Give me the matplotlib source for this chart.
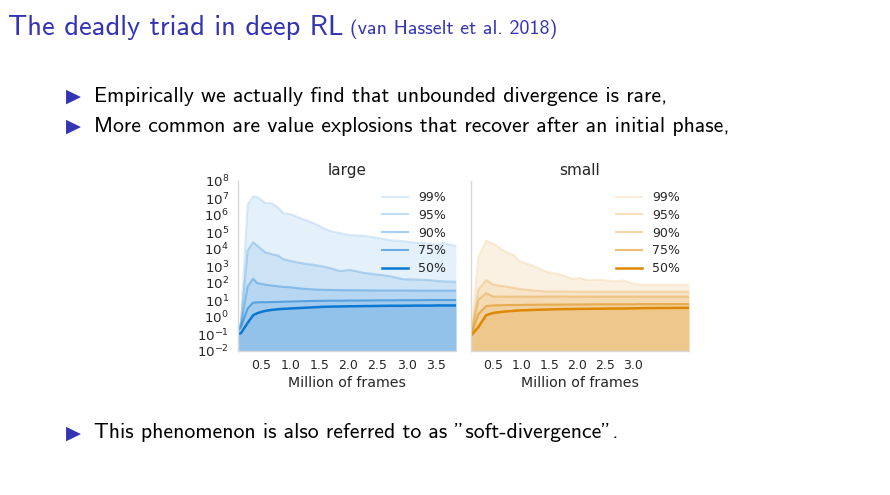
import numpy as np
import matplotlib
matplotlib.use('Agg')
import matplotlib.pyplot as plt

# quantile curves, stored as log10 of the value
quantiles = ['99%', '95%', '90%', '75%', '50%']

large_x = [0.10, 0.15, 0.265, 0.36, 0.43, 0.50, 0.57, 0.68, 0.80, 0.88, 1.00, 1.11,
           1.23, 1.34, 1.46, 1.57, 1.68, 1.86, 2.03, 2.26, 2.49, 2.72, 2.94, 3.17,
           3.40, 3.52, 3.63, 3.75, 3.85]
large_log = {
    '99%': [-0.5, -0.3, 6.6, 7.1, 7.05, 6.9, 6.7, 6.7, 6.4, 6.1, 6.07, 5.9,
            5.75, 5.6, 5.43, 5.23, 5.07, 4.93, 4.82, 4.78, 4.66, 4.52, 4.46, 4.36,
            4.32, 4.26, 4.36, 4.26, 4.18],
    '95%': [-0.6, -0.4, 3.9, 4.4, 4.2, 4.0, 3.8, 3.7, 3.6, 3.4, 3.3, 3.22,
            3.15, 3.1, 3.03, 2.97, 2.88, 2.7, 2.77, 2.6, 2.5, 2.4, 2.22, 2.2,
            2.17, 2.12, 2.1, 2.08, 2.07],
    '90%': [-0.7, -0.5, 1.8, 2.25, 2.0, 1.95, 1.9, 1.85, 1.8, 1.77, 1.75, 1.7,
            1.66, 1.63, 1.61, 1.6, 1.59, 1.58, 1.57, 1.57, 1.56, 1.56, 1.56, 1.55,
            1.55, 1.55, 1.55, 1.55, 1.55],
    '75%': [-0.8, -0.6, 0.5, 0.85, 0.86, 0.87, 0.87, 0.88, 0.89, 0.9, 0.91, 0.92,
            0.93, 0.94, 0.95, 0.95, 0.96, 0.96, 0.97, 0.97, 0.98, 0.98, 0.99, 0.99,
            1.0, 1.0, 1.0, 1.0, 1.0],
    '50%': [-1.0, -0.95, -0.35, 0.1, 0.22, 0.3, 0.36, 0.42, 0.46, 0.48, 0.5, 0.52,
            0.54, 0.56, 0.58, 0.6, 0.61, 0.62, 0.63, 0.64, 0.65, 0.66, 0.66, 0.67,
            0.67, 0.68, 0.68, 0.68, 0.68],
}

small_x = [0.10, 0.23, 0.37, 0.50, 0.62, 0.74, 0.86, 0.98, 1.10, 1.22, 1.46, 1.70,
           1.93, 2.05, 2.17, 2.41, 2.65, 2.83, 3.01, 3.13, 3.49, 4.00]
small_log = {
    '99%': [-1.0, 3.5, 4.5, 4.3, 4.05, 3.8, 3.65, 3.25, 3.15, 3.0, 2.65, 2.5,
            2.25, 2.3, 2.17, 2.2, 2.1, 2.14, 1.97, 1.9, 1.9, 1.9],
    '95%': [-1.05, 1.6, 2.17, 1.9, 1.83, 1.78, 1.72, 1.64, 1.6, 1.56, 1.5, 1.5,
            1.49, 1.49, 1.49, 1.49, 1.49, 1.49, 1.49, 1.49, 1.49, 1.49],
    '90%': [-1.05, 1.0, 1.4, 1.2, 1.2, 1.2, 1.2, 1.2, 1.2, 1.2, 1.2, 1.2,
            1.2, 1.2, 1.2, 1.2, 1.2, 1.2, 1.2, 1.2, 1.2, 1.2],
    '75%': [-1.05, 0.16, 0.64, 0.68, 0.69, 0.7, 0.71, 0.71, 0.72, 0.72, 0.73, 0.73,
            0.74, 0.74, 0.74, 0.75, 0.75, 0.75, 0.75, 0.76, 0.76, 0.76],
    '50%': [-1.1, -0.6, 0.1, 0.24, 0.29, 0.33, 0.36, 0.39, 0.4, 0.42, 0.44, 0.46,
            0.47, 0.48, 0.48, 0.49, 0.5, 0.5, 0.51, 0.52, 0.53, 0.54],
}

line_alpha = {'99%': 0.15, '95%': 0.25, '90%': 0.35, '75%': 0.55, '50%': 1.0}
line_width = {'99%': 1.5, '95%': 1.5, '90%': 1.5, '75%': 1.5, '50%': 1.8}

blue = '#0a78d2'
orange = '#de8700'
struct = '#3333b3'
slide_font = ['cmss10', 'DejaVu Sans']

W, H = 890, 495
fig = plt.figure(figsize=(W / 100, H / 100), dpi=100)
fig.patch.set_facecolor('white')


def panel(rect, x, logs, color, title, xticks, xmax, ylabels, leg_x):
    ax = fig.add_axes(rect)
    x = np.array(x)
    for q in quantiles:
        y = 10.0 ** np.array(logs[q])
        ax.fill_between(x, 1e-2, y, color=color, alpha=0.11, lw=0)
        ax.plot(x, y, color=color, alpha=line_alpha[q], lw=line_width[q], label=q)
    ax.set_yscale('log')
    ax.set_ylim(1e-2, 1e8)
    ax.set_xlim(0.1, xmax)
    ax.set_yticks([10.0 ** k for k in range(-2, 9)])
    ax.minorticks_off()
    ax.set_xticks(xticks)
    ax.set_xticklabels(['%.1f' % t for t in xticks])
    if not ylabels:
        ax.set_yticklabels([])
    ax.tick_params(axis='x', length=0, labelsize=9, colors='#262626', pad=5.5)
    ax.tick_params(axis='y', length=0, labelsize=9.6, colors='#262626', pad=6.5)
    for s in ['top', 'right']:
        ax.spines[s].set_visible(False)
    for s in ['left', 'bottom']:
        ax.spines[s].set_color('#d9d9d9')
        ax.spines[s].set_linewidth(1.0)
    ax.set_title(title, fontsize=11, color='#262626', pad=4)
    ax.set_xlabel('Million of frames', fontsize=10.2, color='#262626', labelpad=3)
    leg = ax.legend(loc='upper right', frameon=False, fontsize=9,
                    handlelength=2.1, labelspacing=0.38, borderaxespad=0.2,
                    handletextpad=0.8, bbox_to_anchor=(leg_x, 0.985))
    for t in leg.get_texts():
        t.set_color('#262626')
    return ax


panel([238 / W, (H - 351) / H, 218 / W, 170 / H], large_x, large_log, blue,
      'large', [0.5, 1.0, 1.5, 2.0, 2.5, 3.0, 3.5], 3.85, True, 0.99)
panel([471 / W, (H - 351) / H, 218 / W, 170 / H], small_x, small_log, orange,
      'small', [0.5, 1.0, 1.5, 2.0, 2.5, 3.0], 4.0, False, 0.995)

# slide text
fig.text(8 / W, 1 - 28 / H, 'The deadly triad in deep RL', fontsize=20.5,
         color=struct, va='center', ha='left', family=slide_font)
fig.text(350 / W, 1 - 29 / H, '(van Hasselt et al. 2018)', fontsize=14.4,
         color=struct, va='center', ha='left', family=slide_font)

bullets = [
    (96, 'Empirically we actually find that unbounded divergence is rare,'),
    (126, 'More common are value explosions that recover after an initial phase,'),
    (433, 'This phenomenon is also referred to as "soft-divergence".'),
]
for yy, txt in bullets:
    fig.text(66 / W, 1 - yy / H, '\u25B6', fontsize=14, color=struct,
             va='center', ha='left', family='DejaVu Sans')
    fig.text(94 / W, 1 - yy / H, txt, fontsize=15.7, color='black',
             va='center', ha='left', family=slide_font)

fig.savefig('out.png', dpi=100)
